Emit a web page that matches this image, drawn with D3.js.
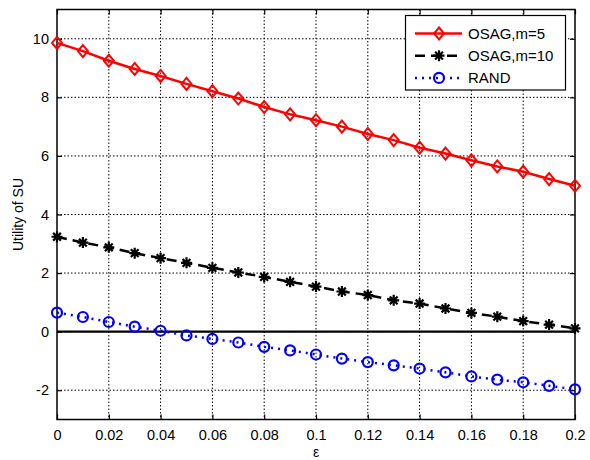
<!DOCTYPE html>
<html><head><meta charset="utf-8">
<script src="https://cdn.jsdelivr.net/npm/d3@7"></script>
<style>
body{margin:0;background:#fff;}
text{font-family:"Liberation Sans",Arial,sans-serif;}
</style></head>
<body><svg id="c" width="590" height="460"></svg>
<script>
const eps = d3.range(21).map(i => +(i*0.01).toFixed(2));
const osag5 = [9.86, 9.58, 9.25, 8.97, 8.73, 8.46, 8.21, 7.96, 7.67, 7.42, 7.22, 7.0, 6.75, 6.54, 6.28, 6.08, 5.85, 5.64, 5.46, 5.21, 4.98];
const osag10 = [3.24, 3.04, 2.88, 2.68, 2.51, 2.35, 2.18, 2.02, 1.87, 1.70, 1.54, 1.37, 1.25, 1.07, 0.96, 0.79, 0.64, 0.51, 0.36, 0.24, 0.11];
const rand = [0.65, 0.50, 0.33, 0.17, 0.03, -0.13, -0.25, -0.37, -0.52, -0.64, -0.78, -0.92, -1.04, -1.15, -1.26, -1.39, -1.53, -1.64, -1.73, -1.85, -1.97];
const xTicks = [0, 0.02, 0.04, 0.06, 0.08, 0.1, 0.12, 0.14, 0.16, 0.18, 0.2];
const yTicks = [-2, 0, 2, 4, 6, 8, 10];
const seriesNames = ["OSAG,m=5", "OSAG,m=10", "RAND"];

const svg = d3.select("#c");
const L = 57, R = 575, T = 9.5, B = 419.5;
const x = d3.scaleLinear().domain([0, 0.2]).range([L, R]);
const y = d3.scaleLinear().domain([-3, 11]).range([B, T]);
const fmt = d => String(d);

// grid
const g = svg.append("g");
g.selectAll(".gx").data(xTicks.slice(1, -1)).join("line")
  .attr("x1", d => x(d)).attr("x2", d => x(d)).attr("y1", T).attr("y2", B)
  .attr("stroke", "#000").attr("stroke-width", 1).attr("stroke-dasharray", "1.5,2");
g.selectAll(".gy").data(yTicks).join("line")
  .attr("y1", d => y(d)).attr("y2", d => y(d)).attr("x1", L).attr("x2", R)
  .attr("stroke", "#000").attr("stroke-width", 1).attr("stroke-dasharray", "1.5,2");

// zero line
svg.append("line").attr("x1", L).attr("x2", R).attr("y1", y(0)).attr("y2", y(0))
  .attr("stroke", "#000").attr("stroke-width", 2.2);

// axes
const ax = svg.append("g").attr("transform", `translate(0,${B})`)
  .call(d3.axisBottom(x).tickValues(xTicks).tickFormat(fmt).tickSizeInner(-5).tickSizeOuter(0).tickPadding(10));
const axT = svg.append("g").attr("transform", `translate(0,${T})`)
  .call(d3.axisTop(x).tickValues(xTicks).tickFormat("").tickSizeInner(-5).tickSizeOuter(0));
const ay = svg.append("g").attr("transform", `translate(${L},0)`)
  .call(d3.axisLeft(y).tickValues(yTicks).tickFormat(fmt).tickSizeInner(-5).tickSizeOuter(0).tickPadding(8));
const ayR = svg.append("g").attr("transform", `translate(${R},0)`)
  .call(d3.axisRight(y).tickValues(yTicks).tickFormat("").tickSizeInner(-5).tickSizeOuter(0));
[ax, axT, ay, ayR].forEach(a => {
  a.select(".domain").remove();
  a.selectAll("line").attr("stroke", "#000").attr("stroke-width", 1.2);
  a.selectAll("text").attr("font-size", 14.5).attr("fill", "#000")
    .style("font-family", '"Liberation Sans",Arial,sans-serif');
});
svg.append("rect").attr("x", L).attr("y", T).attr("width", R - L).attr("height", B - T)
  .attr("fill", "none").attr("stroke", "#000").attr("stroke-width", 1.5);

// labels
svg.append("text").attr("transform", `translate(23,${(T+B)/2}) rotate(-90)`)
  .attr("text-anchor", "middle").attr("font-size", 14).text("Utility of SU");
svg.append("text").attr("x", (L+R)/2).attr("y", 457).attr("text-anchor", "middle")
  .attr("font-size", 14).text("ε");

// series
const data = [osag5, osag10, rand];
const colors = ["#ff0000", "#000000", "#0000ff"];
const dashes = [null, "10,6", "2,5"];
const line = d3.line().x((d, i) => x(eps[i])).y(d => y(d));

function marker(sel, k, cx, cy) {
  if (k === 0) {
    sel.append("path").attr("d", `M${cx},${cy-6}L${cx+5},${cy}L${cx},${cy+6}L${cx-5},${cy}Z`)
      .attr("fill", "none").attr("stroke", colors[k]).attr("stroke-width", 2);
  } else if (k === 1) {
    const r = 5.5;
    const p = d3.range(4).map(j => {
      const a = j * Math.PI / 4;
      return `M${cx - r*Math.cos(a)},${cy - r*Math.sin(a)}L${cx + r*Math.cos(a)},${cy + r*Math.sin(a)}`;
    }).join("");
    sel.append("path").attr("d", p).attr("stroke", colors[k]).attr("stroke-width", 2.2);
  } else {
    sel.append("circle").attr("cx", cx).attr("cy", cy).attr("r", 5)
      .attr("fill", "none").attr("stroke", colors[k]).attr("stroke-width", 2.2);
  }
}

data.forEach((vals, k) => {
  svg.append("path").datum(vals).attr("d", line).attr("fill", "none")
    .attr("stroke", colors[k]).attr("stroke-width", 2.5)
    .attr("stroke-dasharray", dashes[k]);
  const mg = svg.append("g");
  vals.forEach((v, i) => marker(mg, k, x(eps[i]), y(v)));
});

// legend
const lg = svg.append("g");
lg.append("rect").attr("x", 405.5).attr("y", 15.5).attr("width", 160).attr("height", 74.5)
  .attr("fill", "#fff").attr("stroke", "#000").attr("stroke-width", 1.2);
seriesNames.forEach((n, k) => {
  const yy = 33.5 + k * 22.2;
  lg.append("line").attr("x1", 415).attr("x2", 462).attr("y1", yy).attr("y2", yy)
    .attr("stroke", colors[k]).attr("stroke-width", 2.5).attr("stroke-dasharray", dashes[k]);
  marker(lg, k, 439, yy);
  lg.append("text").attr("x", 468).attr("y", yy + 5.5).attr("font-size", 15).text(n);
});
</script></body></html>
